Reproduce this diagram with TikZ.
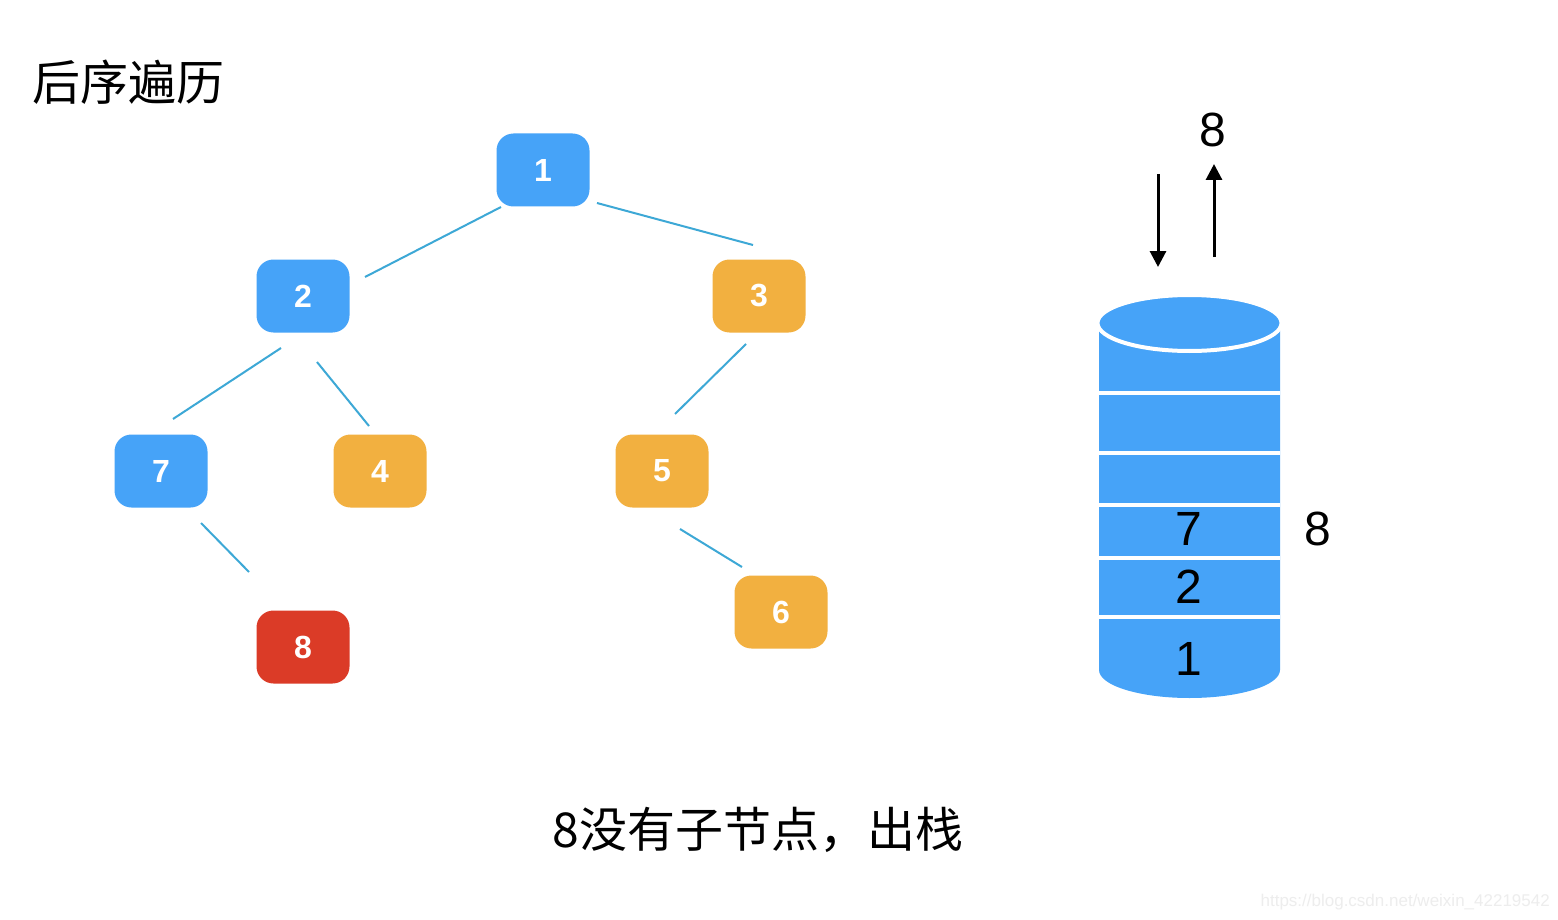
\documentclass[tikz,border=0pt]{standalone}
\usepackage{fontspec}
\setmainfont{Liberation Sans}
\newfontfamily\cjk{Noto Sans CJK SC}
\usetikzlibrary{arrows.meta,calc}
\definecolor{nblue}{HTML}{46A3F8}
\definecolor{norange}{HTML}{F2B040}
\definecolor{nred}{HTML}{DB3B27}
\definecolor{eline}{HTML}{3DA8D6}
\begin{document}
\begin{tikzpicture}[x=1pt,y=-1pt,
  tnode/.style={rounded corners=17pt,minimum width=93pt,minimum height=73pt,inner sep=0pt,
    text=white,font=\fontsize{32}{36}\selectfont\bfseries},
  bluen/.style={tnode,fill=nblue},
  orangen/.style={tnode,fill=norange},
  redn/.style={tnode,fill=nred},
  edge/.style={draw=eline,line width=2pt},
  big/.style={font=\fontsize{48}{54}\selectfont,inner sep=0pt},
  sep/.style={draw=white,line width=4pt},
  arr/.style={line width=3pt,-{Triangle[width=16pt,length=16pt]}}
]
\useasboundingbox (0,0) rectangle (1558,920);
\fill[white] (0,0) rectangle (1558,920);

\node[font=\cjk\fontsize{48}{52}\selectfont,anchor=west,inner sep=0pt] (title) at (32,82) {后序遍历};

% tree
\node[bluen] (n1) at (543,170) {1};
\node[bluen] (n2) at (303,296) {2};
\node[orangen] (n3) at (759,296) {3};
\node[bluen] (n7) at (161,471) {7};
\node[orangen] (n4) at (380,471) {4};
\node[orangen] (n5) at (662,471) {5};
\node[orangen] (n6) at (781,612) {6};
\node[redn] (n8) at (303,647) {8};

\draw[edge] ([shift={(-42,37)}]n1.center) -- ([shift={(62,-19)}]n2.center);
\draw[edge] ([shift={(54,33)}]n1.center) -- ([shift={(-6,-51)}]n3.center);
\draw[edge] ([shift={(-22,52)}]n2.center) -- ([shift={(12,-52)}]n7.center);
\draw[edge] ([shift={(14,66)}]n2.center) -- ([shift={(-11,-45)}]n4.center);
\draw[edge] ([shift={(-13,48)}]n3.center) -- ([shift={(13,-57)}]n5.center);
\draw[edge] ([shift={(40,52)}]n7.center) -- ([shift={(-54,-75)}]n8.center);
\draw[edge] ([shift={(18,58)}]n5.center) -- ([shift={(-39,-45)}]n6.center);

% stack (cylinder)
\fill[nblue] (1099,323) -- (1099,670) arc[start angle=180,end angle=0,x radius=90.5,y radius=28] -- (1280,323) -- cycle;
\draw[sep] (1099,393) -- (1280,393);
\draw[sep] (1099,453) -- (1280,453);
\draw[sep] (1099,505) -- (1280,505);
\draw[sep] (1099,558) -- (1280,558);
\draw[sep] (1099,617) -- (1280,617);
\filldraw[fill=nblue,draw=white,line width=4pt] (1189.5,323) ellipse[x radius=92,y radius=28];

\node[big] (s7) at (1189,529) {7};
\node[big] (s2) at (1189,587) {2};
\node[big] (s1) at (1189,659) {1};
\node[big] (side8) at (1318,529) {8};
\node[big] (top8) at (1213,130) {8};

\coordinate (inA) at (1158,174);
\coordinate (inB) at (1158,267);
\coordinate (outA) at (1214,257);
\coordinate (outB) at (1214,164);
\draw[arr] (inA) -- (inB);
\draw[arr] (outA) -- (outB);

\node[font=\cjk\fontsize{48}{54}\selectfont,inner sep=0pt] (cap) at (758,830) {8没有子节点，出栈};

\node[font=\fontsize{17}{20}\selectfont,text=black!7,anchor=east,inner sep=0pt] (wm) at (1550,902) {https://blog.csdn.net/weixin\_42219542};
\end{tikzpicture}
\end{document}
